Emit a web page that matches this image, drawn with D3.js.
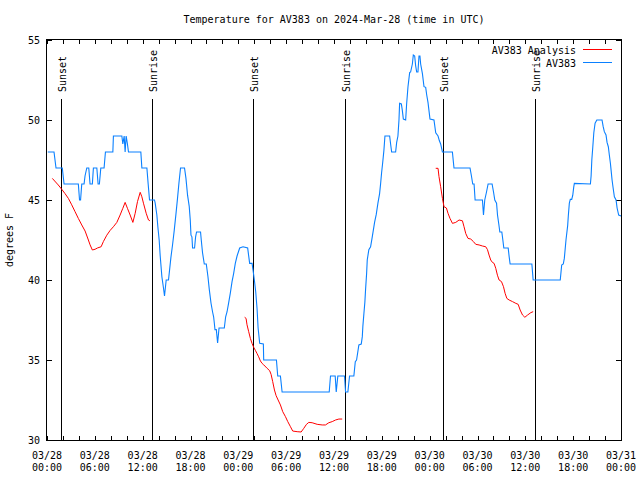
<!DOCTYPE html>
<html>
<head>
<meta charset="utf-8">
<script src="https://cdn.jsdelivr.net/npm/d3@7"></script>
<style>
  html, body { margin: 0; padding: 0; background: #fff; }
  svg { display: block; font-family: "DejaVu Sans Mono", monospace; font-size: 10px; }
</style>
</head>
<body>
<svg id="chart" width="640" height="480"></svg>
<script>
// ---------------- data ----------------
const title = "Temperature for AV383 on 2024-Mar-28 (time in UTC)";
const yLabel = "degrees F";
const seriesNames = ["AV383 Analysis", "AV383"];

// hours since 2024-03-28 00:00 UTC
const labelHours = [0, 6, 12, 18, 24, 30, 36, 42, 48, 54, 60, 66, 72];
const labelDates = ["03/28","03/28","03/28","03/28","03/29","03/29","03/29","03/29","03/30","03/30","03/30","03/30","03/31"];
const labelTimes = ["00:00","06:00","12:00","18:00","00:00","06:00","12:00","18:00","00:00","06:00","12:00","18:00","00:00"];
const yTicks = [30, 35, 40, 45, 50, 55];

const sunHours  = [1.72, 13.21, 25.78, 37.33, 49.72, 61.27];
const sunLabels = ["Sunset", "Sunrise", "Sunset", "Sunrise", "Sunset", "Sunrise"];

// observed AV383 (hours, degF)
const obsHours = [0.1,0.88,1.13,1.92,2.14,3.93,4.08,4.21,4.36,4.65,4.77,4.99,5.24,5.40,5.69,5.82,6.25,6.41,6.57,6.75,7.16,7.33,8.26,8.33,9.39,9.51,9.68,9.80,9.93,10.09,10.22,11.77,11.90,12.53,12.69,12.86,13.48,
13.57,13.78,13.91,14.07,14.20,14.41,14.61,14.74,14.95,15.24,15.37,15.54,15.75,15.96,16.17,16.37,16.55,16.75,17.25,17.43,17.63,17.84,17.97,18.06,18.18,18.26,18.51,18.64,18.76,19.26,19.35,19.51,19.73,19.98,20.19,20.36,20.57,20.77,20.90,20.99,21.07,21.24,21.40,21.58,22.24,22.41,22.58,22.78,23.00,23.21,23.41,23.62,23.84,24.17,24.59,25.17,25.42,25.72,25.85,26.01,26.18,26.35,26.48,26.68,27.14,27.18,28.78,28.94,29.28,29.49,35.40,35.56,36.15,36.28,36.48,37.32,37.45,37.74,37.95,38.49,38.67,38.83,39.12,39.42,39.55,39.62,39.75,39.87,39.96,40.09,40.17,40.37,40.59,40.80,40.93,41.09,41.30,41.51,41.72,41.85,41.97,42.10,42.26,42.39,42.98,43.10,43.23,43.73,43.86,44.02,44.15,44.23,44.45,44.57,44.70,44.99,45.11,45.28,45.49,45.61,45.83,45.95,46.12,46.24,46.37,46.53,46.66,46.78,46.87,47.09,47.29,47.50,47.63,47.79,47.91,48.04,48.54,48.76,49.05,49.22,49.38,49.60,50.85,51.05,53.06,53.24,53.40,53.57,53.70,54.62,54.75,54.91,55.13,55.33,55.83,56.01,56.17,56.39,56.51,56.67,56.80,57.05,57.18,57.30,57.85,57.97,58.09,60.82,60.98,64.38,64.56,64.76,64.89,65.10,65.31,65.39,65.52,65.64,65.82,65.95,66.07,66.15,68.16,68.25,68.34,68.46,68.59,68.75,68.97,69.62,69.76,69.91,70.12,70.25,70.41,70.54,70.67,70.75,70.88,71.00,71.17,71.38,71.51,71.71,72.0];
const obsTemps = [48,48,47,47,46,46,45,45,46,46,46.5,47,47,46,46,47,47,46,46,47,47,48,48,49,49,48.5,49,48,49,48.5,48,48,47,47,46,45,45,
44.8,44.06,43.3,42.5,41.5,40.2,39.5,39.0,40,40,40.6,41.4,42.2,43.1,44.1,45.1,46.06,47,47,46.35,45.3,44.6,43.75,42.8,42.7,42,42,42.7,43,43,42.5,41.7,41,41,40.2,39.4,38.56,38,37.7,37.3,36.9,36.9,36.06,37,37,37.7,38,38.56,39.2,39.9,40.4,41.04,41.5,42.0,42.08,42.0,41.04,41.04,40.6,40,39.27,38.2,37.0,36.04,36,35,35,34,34,33,33,34,34,33,34,34,33,33,34,34,34.9,35,35.94,36.0,36.46,37.1,37.9,38.6,39.4,40.4,41.25,41.9,42.08,42.7,43.1,43.6,44.1,44.8,45.4,46.04,46.7,47.3,48.1,49,49,48.5,48,48,48.6,49,50,51.04,51,50.6,50.06,50,51,52.08,52.96,53,53.5,54.06,54,53.4,53,53,54,54,53.5,52.9,52.08,52.04,51.56,51.1,50.6,50.06,50,49.2,49,48.7,48.5,48,48,47,47,46.5,46,46,45,45,44.06,45,45.5,46,46,45.5,45,44.8,44.06,43.5,43,43,42.5,42,42,41.46,41,41,40,40,40.94,41,41.35,42.5,43.4,44,44.8,45.04,45.04,45.3,45.8,46.04,46,46.5,47.5,48.3,49.2,49.8,50,50,49.6,49.27,49.06,48.6,48.33,47.8,47.3,46.9,46.25,45.8,45.2,45,44.5,44.06,44];

// analysis AV383 (hours, degF); null = gap
const anaHours = [0.67,1.41,1.85,2.26,2.68,3.10,3.52,3.93,4.36,4.78,5.19,5.40,5.69,6.03,6.32,6.79,7.07,7.50,7.92,8.33,8.76,9.17,9.51,9.80,10.09,10.43,10.77,11.06,11.35,11.69,11.90,12.10,12.44,12.73,12.91,
18.0,
24.79,24.97,25.09,25.30,25.51,25.72,25.92,26.14,26.35,26.55,26.77,26.98,27.18,27.61,27.93,28.11,28.31,28.53,28.74,28.99,29.28,29.57,29.91,30.20,30.54,30.82,31.38,31.88,32.21,32.55,32.84,33.26,33.89,34.52,34.93,35.35,35.78,36.19,36.61,37.03,
43.0,
48.76,49.05,49.17,49.38,49.60,49.80,50.10,50.30,50.55,50.86,51.27,51.69,52.11,52.31,52.53,52.81,53.15,53.49,53.78,54.20,54.62,55.03,55.25,55.45,55.66,55.87,56.08,56.29,56.50,56.71,57.01,57.26,57.46,57.68,57.97,58.39,58.81,59.10,59.35,59.65,59.94,60.28,60.69,60.98];
const anaTemps = [46.35,45.94,45.67,45.4,45.1,44.7,44.27,43.85,43.44,43.06,42.5,42.2,41.875,41.92,42.0,42.08,42.4,42.8,43.1,43.33,43.6,44.06,44.48,44.85,44.48,44.06,43.6,44.17,44.9,45.48,45.2,44.8,44.17,43.75,43.7,
null,
37.67,37.6,37.2,36.77,36.35,36.04,35.8,35.6,35.4,35.2,34.94,34.79,34.7,34.48,34.33,34.1,33.65,33.125,32.77,32.5,32.19,31.77,31.46,31.15,30.83,30.56,30.52,30.5,30.73,30.98,31.1,31.08,30.98,30.94,30.94,31.08,31.15,31.25,31.31,31.31,
null,
46.98,46.98,46.46,45.83,45.1,44.58,44.5,44.17,43.85,43.54,43.6,43.75,43.7,43.33,42.9,42.6,42.56,42.4,42.23,42.19,42.125,42.08,41.9,41.56,41.25,41.1,41.04,40.73,40.3,40.0,39.9,39.58,39.17,38.85,38.75,38.65,38.54,38.48,38.125,37.81,37.67,37.81,37.96,38.02];

// ---------------- chart ----------------
const svg = d3.select("#chart");
const L = 47, R = 621, T = 40, B = 440;
const x = d3.scaleLinear().domain([0, 72]).range([L, R]);
const y = d3.scaleLinear().domain([30, 55]).range([B, T]);

const colAna = "#ff0000", colObs = "#0a80ff";

// title
svg.append("text").attr("x", (L + R) / 2).attr("y", 23)
  .attr("text-anchor", "middle").text(title);

// y label
svg.append("text").attr("transform", "translate(13,240) rotate(-90)")
  .attr("text-anchor", "middle").text(yLabel);

// axes (ticks inward)
const xTickVals = d3.range(0, 73, 2);
function styleAxis(g) {
  g.select(".domain").remove();
  g.selectAll("line").attr("stroke", "#000").attr("shape-rendering", "crispEdges");
  g.selectAll("text").attr("fill", "#000").style("font-family", "DejaVu Sans Mono, monospace").style("font-size", "10px");
}
svg.append("g").attr("transform", `translate(0,${B})`)
  .call(d3.axisBottom(x).tickValues(xTickVals).tickSizeInner(-4).tickSizeOuter(0).tickFormat(""))
  .call(styleAxis);
svg.append("g").attr("transform", `translate(0,${T})`)
  .call(d3.axisTop(x).tickValues(xTickVals).tickSizeInner(-4).tickSizeOuter(0).tickFormat(""))
  .call(styleAxis);
svg.append("g").attr("transform", `translate(${L},0)`)
  .call(d3.axisLeft(y).tickValues(yTicks).tickSizeInner(-5).tickSizeOuter(0).tickPadding(7).tickFormat(d3.format("d")))
  .call(styleAxis);
svg.append("g").attr("transform", `translate(${R},0)`)
  .call(d3.axisRight(y).tickValues(yTicks).tickSizeInner(-5).tickSizeOuter(0).tickFormat(""))
  .call(styleAxis);

// x labels (two lines)
const xl = svg.append("g");
labelHours.forEach((h, i) => {
  xl.append("text").attr("x", x(h)).attr("y", 459).attr("text-anchor", "middle").text(labelDates[i]);
  xl.append("text").attr("x", x(h)).attr("y", 471).attr("text-anchor", "middle").text(labelTimes[i]);
});

// sunrise / sunset lines
const sun = svg.append("g");
sunHours.forEach((h, i) => {
  const xp = Math.round(x(h)) + 0.5;
  sun.append("line").attr("x1", xp).attr("x2", xp).attr("y1", 98.5).attr("y2", B)
    .attr("stroke", "#000").attr("stroke-width", 1).attr("shape-rendering", "crispEdges");
  sun.append("text").attr("transform", `translate(${xp + 4},92) rotate(-90)`)
    .attr("text-anchor", "start").text(sunLabels[i]);
});

// lines
const line = d3.line()
  .defined(d => d[1] !== null)
  .x(d => x(d[0])).y(d => y(d[1]));

const anaData = anaHours.map((h, i) => [h, anaTemps[i]]);
const obsData = obsHours.map((h, i) => [h, obsTemps[i]]);

svg.append("path").datum(anaData).attr("d", line)
  .attr("fill", "none").attr("stroke", colAna).attr("stroke-width", 1);
svg.append("path").datum(obsData).attr("d", line)
  .attr("fill", "none").attr("stroke", colObs).attr("stroke-width", 1.1);

// border
svg.append("rect").attr("x", L - 0.5).attr("y", T - 0.5).attr("width", R - L + 1).attr("height", B - T + 1)
  .attr("fill", "none").attr("stroke", "#000").attr("stroke-width", 1).attr("shape-rendering", "crispEdges");

// legend
const legY = [49.5, 62.5];
const legCol = [colAna, colObs];
seriesNames.forEach((name, i) => {
  svg.append("text").attr("x", 576).attr("y", legY[i] + 4.5).attr("text-anchor", "end").text(name);
  svg.append("line").attr("x1", 583).attr("x2", 612).attr("y1", legY[i]).attr("y2", legY[i])
    .attr("stroke", legCol[i]).attr("stroke-width", 1).attr("shape-rendering", "crispEdges");
});
</script>
</body>
</html>
